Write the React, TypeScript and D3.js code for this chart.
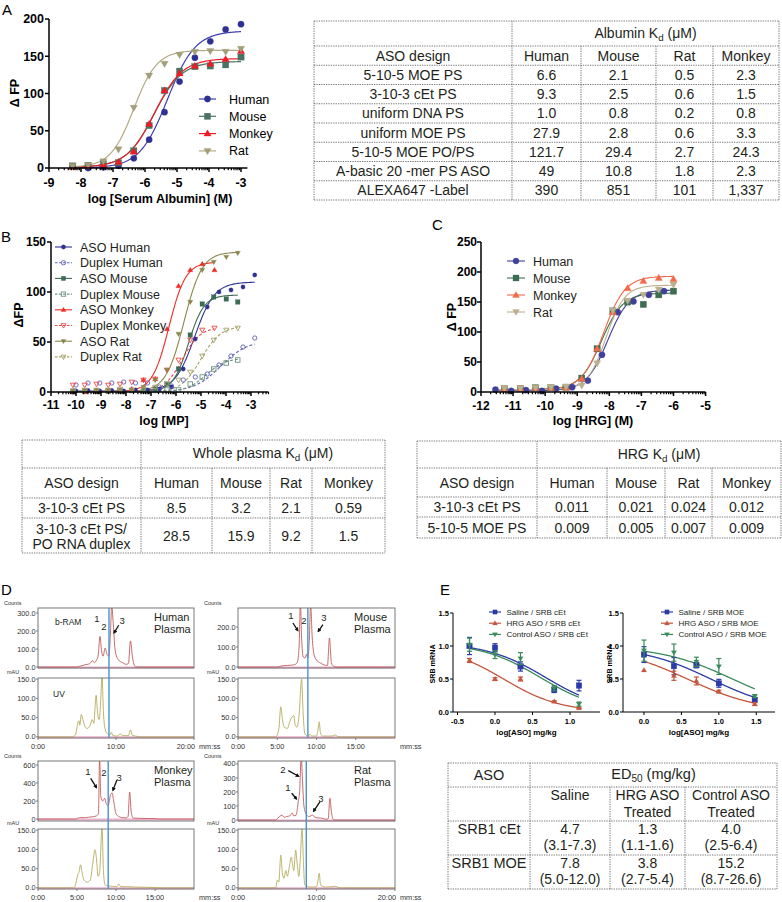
import React from "react";
import * as d3 from "d3";

const FONT = "'Liberation Sans', Arial, Helvetica, sans-serif";
const TXT = "#231f20";

/* ================= Panel A data ================= */
const aX = [-8.26, -7.78, -7.3, -6.83, -6.35, -5.87, -5.39, -4.92, -4.44, -3.96, -3.48, -3.0];
const aHuman = [2, 0, 1, 3, 13, 38, 75, 116, 148, 170, 186, 193];
const aMouse = [2.7, 3.6, 5.8, 7, 23, 57, 104, 130, 136, 137, 138.5, 149];
const aMonkey = [1.3, 2.7, 4.5, 8, 22, 59, 104, 127, 137, 140, 146, 157];
const aRat = [2.7, 4, 9, 25, 81, 124, 140, 152, 156, 157, 156, 160];
const aSpecies = ["Human", "Mouse", "Monkey", "Rat"];
// fitted curves: bottom, top, logEC50, hill
const aFitHuman = [0, 184, -5.3, 1.0];
const aFitMouse = [1, 143, -5.72, 1.0];
const aFitMonkey = [1, 147, -5.7, 1.0];
const aFitRat = [1, 158, -6.35, 1.2];
const aXTicks = [-9, -8, -7, -6, -5, -4, -3];
const aYTicks = [0, 50, 100, 150, 200];
const aColors = ["#2e3192", "#4a7363", "#ed1c24", "#a39d7a"];
const aLineColors = ["#3b3bb0", "#4a7363", "#ed1c24", "#b3ab85"];
const aShapes = ["circle", "square", "tri", "dtri"];

/* ================= Table A ================= */
const tAHead = ["ASO design", "Human", "Mouse", "Rat", "Monkey"];
const tADesign = ["5-10-5 MOE PS", "3-10-3 cEt PS", "uniform DNA PS", "uniform MOE PS", "5-10-5 MOE PO/PS", "A-basic 20 -mer PS ASO", "ALEXA647 -Label"];
const tAHuman = ["6.6", "9.3", "1.0", "27.9", "121.7", "49", "390"];
const tAMouse = ["2.1", "2.5", "0.8", "2.8", "29.4", "10.8", "851"];
const tARat = ["0.5", "0.6", "0.2", "0.6", "2.7", "1.8", "101"];
const tAMonkey = ["2.3", "1.5", "0.8", "3.3", "24.3", "2.3", "1,337"];

/* ================= Panel B data ================= */
const bXHuman = [-10.0, -9.52, -9.05, -8.57, -8.09, -7.62, -7.14, -6.66, -6.18, -5.71, -5.23, -4.75, -4.28, -3.8, -3.32, -2.85];
const bXMouseRat = [-10.12, -9.65, -9.18, -8.71, -8.24, -7.77, -7.3, -6.83, -6.36, -5.9, -5.43, -4.95, -4.49, -3.99, -3.53];
const bXMonkey = [-10.12, -9.65, -9.18, -8.71, -8.24, -7.77, -7.3, -6.83, -6.36, -5.9, -5.43, -4.95, -4.46];
const bAsoHuman = [1, 1.5, 1, 1.5, 1, 2, 2, 3, 5, 23, 53, 85, 100, 102, 105, 117];
const bDupHuman = [7, 9, 9, 9, 10, 9, 9, 5, 6, 12, 15, 18, 27, 36, 45, 54];
const bAsoMouse = [0.5, 0.5, 1, 1, 1, 1.5, 2, 3, 8, 23, 57, 88, 95, 93, 90];
const bDupMouse = [1, 1, 1, 1, 1.5, 1.5, 1, 1.5, 2, 2, 8, 15, 23, 29, 32];
const bAsoMonkey = [0, 0, 1, 1, 1, 3, 12, 13, 63, 106, 122, 128, 122];
const bDupMonkey = [7, 7, 8, 7, 8, 10, 12, 13, 22, 32, 52, 62, 64];
const bAsoRat = [0, 0.5, 1, 1, 1, 2, 5, 12, 22, 58, 90, 122, 130, 135, 139];
const bDupRat = [1, 2, 2, 2, 3, 2, 3, 5, 8, 12, 20, 36, 52, 62, 64];
const bNames = ["ASO Human", "Duplex Human", "ASO Mouse", "Duplex Mouse", "ASO Monkey", "Duplex Monkey", "ASO Rat", "Duplex Rat"];
// bottom, top, logEC50, hill, fit start, fit end
const bFits = [
  [1, 110, -5.25, 1.1, -10.0, -2.85],
  [0, 52, -4.2, 0.8, -7.5, -2.85],
  [0.5, 97, -5.5, 1.4, -10.12, -3.53],
  [0, 34, -4.8, 1.1, -7.3, -3.53],
  [0.5, 130, -6.28, 1.3, -10.12, -4.46],
  [0, 65, -5.75, 1.2, -7.8, -4.46],
  [0.5, 140, -5.68, 1.2, -10.0, -3.53],
  [0, 66, -5.0, 1.1, -7.3, -3.53],
];
const bXTicks = [-11, -10, -9, -8, -7, -6, -5, -4, -3];
const bYTicks = [0, 50, 100, 150];
const bColors = ["#2e3192", "#6161b8", "#3d6b55", "#6e9583", "#ee2a24", "#f04848", "#8a874c", "#a6a26a"];
const bShapes = ["circle", "circle", "square", "square", "tri", "dtri", "dtri", "dtri"];
const bOpen = [false, true, false, true, false, true, false, true];

/* ================= Panel C data ================= */
const cXHuman = [-11.55, -11.06, -10.6, -10.1, -9.66, -9.16, -8.67, -8.23, -7.74, -7.25, -6.77, -6.3];
const cXOther = [-11.27, -10.77, -10.3, -9.82, -9.35, -8.86, -8.38, -7.89, -7.43, -6.94, -6.46, -6.0];
const cHuman = [4, 2, 3, 2, 5.5, 8, 19, 62, 133, 151, 162, 168];
const cMouse = [5.5, 6, 7, 7, 8, 23, 72, 135, 150, 146, 162, 168];
const cMonkey = [5, 5.5, 6.5, 6.5, 7, 22, 72, 133, 173, 185, 190, 188];
const cRat = [6.5, 6.5, 7, 8, 9, 11, 48, 136, 152, 162, 171, 179];
const cFits = [
  [2, 170, -8.05, 1.3],
  [4, 165, -8.25, 1.3],
  [4, 193, -8.18, 1.3],
  [4, 178, -8.1, 1.5],
];
const cXTicks = [-12, -11, -10, -9, -8, -7, -6, -5];
const cYTicks = [0, 50, 100, 150, 200, 250];
const cColors = ["#3f3f9c", "#3e6e52", "#f26a48", "#bcb08e"];

/* ================= Tables B / C ================= */
const tBHead = ["ASO design", "Human", "Mouse", "Rat", "Monkey"];
const tBRow1 = ["3-10-3 cEt PS", "8.5", "3.2", "2.1", "0.59"];
const tBRow2 = ["28.5", "15.9", "9.2", "1.5"];
const tBRow2Name = ["3-10-3 cEt PS/", "PO RNA duplex"];
const tCRow1 = ["3-10-3 cEt PS", "0.011", "0.021", "0.024", "0.012"];
const tCRow2 = ["5-10-5 MOE PS", "0.009", "0.005", "0.007", "0.009"];

/* ================= Panel D data (minutes, signal) ================= */
const dHumanRed = [[4.8, 0], [5.3, 3], [6.0, 12], [6.6, 18], [7.0, 35], [7.2, 25], [7.5, 38], [7.7, 60], [7.95, 170], [8.15, 90], [8.35, 60], [8.6, 105], [8.85, 70], [9.1, 60], [9.3, 200], [9.45, 345], [9.65, 240], [9.9, 90], [10.3, 40], [10.8, 25], [11.3, 15], [11.6, 20], [11.85, 145], [12.1, 60], [12.4, 5], [12.6, 0]];
const dHumanUV = [[4.3, 0], [4.8, 5], [5.1, 35], [5.25, 42], [5.35, 30], [5.55, 58], [5.75, 45], [6.0, 28], [6.3, 22], [6.7, 30], [6.95, 45], [7.15, 35], [7.45, 108], [7.65, 60], [7.85, 45], [8.05, 100], [8.2, 160], [8.4, 60], [8.6, 20], [8.9, 8], [9.2, 5], [9.4, 12], [9.6, 3], [10.2, 2], [10.55, 8], [10.8, 3], [11.6, 3], [11.85, 18], [12.1, 4], [12.8, 1], [13.5, 0]];
const dMouseRed = [[5.0, 0], [5.5, 5], [6.3, 8], [7.0, 10], [7.4, 15], [7.6, 30], [7.8, 120], [7.95, 320], [8.1, 150], [8.3, 50], [8.55, 45], [8.75, 65], [8.9, 45], [9.1, 150], [9.25, 320], [9.45, 150], [9.7, 60], [10.0, 35], [10.5, 20], [11.0, 10], [11.4, 8], [11.65, 145], [11.9, 20], [12.2, 3], [12.5, 0]];
const dMouseUV = [[4.8, 0], [5.2, 20], [5.45, 78], [5.7, 40], [5.9, 25], [6.3, 22], [6.6, 40], [6.9, 52], [7.1, 55], [7.3, 30], [7.5, 25], [7.8, 60], [8.1, 150], [8.3, 60], [8.5, 10], [8.8, 3], [9.2, 6], [9.4, 2], [10.0, 2], [10.2, 20], [10.35, 39], [10.5, 10], [10.8, 2], [12.0, 2], [12.4, 5], [12.7, 1], [13.2, 0]];
const dMonkeyRed = [[4.9, 0], [5.1, 10], [5.5, 15], [6.0, 15], [6.5, 20], [7.0, 25], [7.5, 35], [7.75, 60], [7.9, 680], [8.05, 250], [8.3, 200], [8.55, 230], [8.75, 170], [9.0, 150], [9.3, 270], [9.5, 290], [9.7, 200], [10.0, 60], [10.4, 25], [10.8, 15], [11.3, 12], [11.55, 30], [11.75, 300], [11.95, 80], [12.2, 10], [13.0, 8], [14.0, 5], [15.3, 3], [15.6, 0]];
const dMonkeyUV = [[4.6, 0], [4.9, 15], [5.1, 35], [5.25, 40], [5.45, 60], [5.6, 45], [5.9, 20], [6.3, 15], [6.7, 20], [7.0, 60], [7.3, 99], [7.5, 75], [7.7, 30], [7.9, 40], [8.2, 155], [8.4, 40], [8.6, 8], [9.0, 5], [9.6, 4], [10.1, 3], [10.35, 10], [10.6, 3], [11.5, 3], [12.5, 2], [15.0, 1], [15.5, 0]];
const dRatRed = [[4.8, 0], [5.0, 10], [5.3, 25], [5.6, 35], [5.9, 20], [6.2, 25], [6.6, 30], [6.9, 50], [7.1, 30], [7.4, 35], [7.7, 140], [7.85, 200], [8.05, 460], [8.2, 300], [8.4, 100], [8.7, 40], [9.0, 25], [9.3, 30], [9.5, 35], [9.8, 20], [10.2, 15], [10.8, 12], [11.2, 5], [11.5, 10], [11.7, 155], [11.9, 60], [12.1, 5], [12.3, 0]];
const dRatUV = [[4.8, 0], [5.0, 20], [5.2, 15], [5.45, 85], [5.65, 40], [5.85, 25], [6.1, 45], [6.3, 30], [6.5, 50], [6.8, 80], [6.95, 60], [7.1, 45], [7.35, 98], [7.55, 60], [7.75, 30], [7.95, 80], [8.15, 155], [8.35, 60], [8.5, 8], [8.8, 3], [9.5, 2], [10.0, 3], [10.2, 20], [10.35, 38], [10.5, 10], [10.8, 3], [11.5, 2], [12.4, 4], [12.8, 1], [13.2, 0]];
const dBlueT = [9.1, 8.9, 9.0, 8.7];
const dNames = ["Human", "Mouse", "Monkey", "Rat"];

/* ================= Panel E data ================= */
const eXcEt = [-0.34, 0, 0.34, 0.79, 1.12];
const eSalineCEt = [1.0, 0.975, 0.69, 0.335, 0.4];
const eSalineCEtErr = [0.13, 0.06, 0.07, 0.04, 0.08];
const eHrgCEt = [0.78, 0.5, 0.5, 0.16, 0.06];
const eHrgCEtErr = [0.03, 0.02, 0.03, 0.01, 0.01];
const eCtrlCEt = [1.02, 0.87, 0.81, 0.36, 0.12];
const eCtrlCEtErr = [0.1, 0.06, 0.09, 0.04, 0.03];
const eXMOE = [0, 0.4, 0.7, 1.0, 1.48];
const eSalineMOE = [0.87, 0.695, 0.71, 0.435, 0.185];
const eSalineMOEErr = [0.12, 0.13, 0.04, 0.06, 0.03];
const eHrgMOE = [0.635, 0.55, 0.47, 0.31, 0.12];
const eHrgMOEErr = [0.0, 0.07, 0.06, 0.02, 0.02];
const eCtrlMOE = [0.93, 0.9, 0.76, 0.69, 0.24];
const eCtrlMOEErr = [0.16, 0.13, 0.07, 0.12, 0.02];
// fitted ED50 (mg/kg) and hill slopes / tops
const edCEt = [4.7, 1.3, 4.0];
const edMOE = [7.8, 3.8, 15.2];
const hillCEt = [1.1, 1.15, 1.1];
const hillMOE = [0.93, 0.9, 0.9];
const topCEt = [1.05, 1.0, 1.05];
const topMOE = [1.0, 1.0, 1.0];
const eLegendCEt = ["Saline / SRB cEt", "HRG ASO / SRB cEt", "Control ASO / SRB cEt"];
const eLegendMOE = ["Saline / SRB MOE", "HRG ASO / SRB MOE", "Control ASO / SRB MOE"];
const eColors = ["#2b3aa8", "#c4553c", "#3b8a5c"];
const eShapes = ["square", "tri", "dtri"];
const eXTicksL = [-0.5, 0, 0.5, 1.0];
const eXTicksR = [0, 0.5, 1.0, 1.5];
const eYTicks = [0, 0.5, 1.0, 1.5];

/* ================= Table E ================= */
const tERowNames = ["SRB1 cEt", "SRB1 MOE"];
const tESaline = ["4.7", "7.8"];
const tESalineCI = ["(3.1-7.3)", "(5.0-12.0)"];
const tEHrg = ["1.3", "3.8"];
const tEHrgCI = ["(1.1-1.6)", "(2.7-5.4)"];
const tECtrl = ["4.0", "15.2"];
const tECtrlCI = ["(2.5-6.4)", "(8.7-26.6)"];

/* ================= helpers ================= */
const sig4 = (p: number[]) => (x: number) => p[0] + (p[1] - p[0]) / (1 + Math.pow(10, (p[2] - x) * p[3]));
const dec = (top: number, led: number, h: number) => (x: number) => top / (1 + Math.pow(10, (x - led) * h));
const fitPath = (f: any, x0: number, x1: number, sx: any, sy: any) =>
  d3.line()(d3.range(0, 151).map((i) => { const x = x0 + ((x1 - x0) * i) / 150; return [sx(x), sy(f(x))] as [number, number]; })) || "";
const logMinors = (lo: number, hi: number) => {
  const out: number[] = [];
  for (let k = Math.floor(lo); k < hi; k++) for (let m = 2; m < 10; m++) { const v = k + Math.log10(m); if (v > lo && v < hi) out.push(v); }
  return out;
};

function Mk(props: any) {
  const { shape, x, y, s, color, open } = props;
  const fill = open ? "none" : color;
  const sw = open ? 0.9 : 0.3;
  if (shape === "circle") return <circle cx={x} cy={y} r={s / 2} fill={fill} stroke={color} strokeWidth={sw} />;
  if (shape === "square") return <rect x={x - s / 2} y={y - s / 2} width={s} height={s} fill={fill} stroke={color} strokeWidth={sw} />;
  const h = s;
  if (shape === "tri") return <polygon points={`${x},${y - h * 0.6} ${x + s * 0.58},${y + h * 0.4} ${x - s * 0.58},${y + h * 0.4}`} fill={fill} stroke={color} strokeWidth={sw} />;
  return <polygon points={`${x},${y + h * 0.6} ${x + s * 0.58},${y - h * 0.4} ${x - s * 0.58},${y - h * 0.4}`} fill={fill} stroke={color} strokeWidth={sw} />;
}

function XAxis(p: any) {
  const { sx, y, ticks, start, end, minors, fs, labelY, sw, tl } = p;
  return (
    <g>
      <line x1={sx(start)} x2={sx(end)} y1={y} y2={y} stroke="#000" strokeWidth={sw} />
      {ticks.map((t: number) => (
        <g key={t}>
          <line x1={sx(t)} x2={sx(t)} y1={y} y2={y + tl} stroke="#000" strokeWidth={sw} />
          <text x={sx(t)} y={labelY} textAnchor="middle" fontSize={fs} fontWeight="bold">{p.fmt(t)}</text>
        </g>
      ))}
      {(minors || []).map((t: number, i: number) => (
        <line key={"m" + i} x1={sx(t)} x2={sx(t)} y1={y} y2={y + tl * 0.55} stroke="#000" strokeWidth={sw * 0.8} />
      ))}
    </g>
  );
}

function YAxis(p: any) {
  const { sy, x, ticks, start, end, fs, labelX, sw, tl } = p;
  return (
    <g>
      <line x1={x} x2={x} y1={sy(start)} y2={sy(end)} stroke="#000" strokeWidth={sw} />
      {ticks.map((t: number) => (
        <g key={t}>
          <line x1={x - tl} x2={x} y1={sy(t)} y2={sy(t)} stroke="#000" strokeWidth={sw} />
          <text x={labelX} y={sy(t)} dy="0.35em" textAnchor="end" fontSize={fs} fontWeight="bold">{p.fmt(t)}</text>
        </g>
      ))}
    </g>
  );
}

const DL = (p: any) => <line x1={p.x1} y1={p.y1} x2={p.x2} y2={p.y2} stroke="#666" strokeWidth={0.9} strokeDasharray="1.3,1.1" />;
const Kd = () => (
  <>
    <tspan>K</tspan>
    <tspan fontSize="70%" dy="3">d</tspan>
    <tspan dy="-3"> (μM)</tspan>
  </>
);

/* ================= Panel A ================= */
function PanelA() {
  const sx = d3.scaleLinear().domain([-9, -3]).range([49, 241]);
  const sy = d3.scaleLinear().domain([0, 200]).range([168, 19]);
  const series = [aHuman, aMouse, aMonkey, aRat];
  const fits = [aFitHuman, aFitMouse, aFitMonkey, aFitRat];
  return (
    <g>
      <text x={2} y={15} fontSize={15}>A</text>
      {fits.map((p, i) => <path key={i} d={fitPath(sig4(p), -8.3, -3.0, sx, sy)} fill="none" stroke={aLineColors[i]} strokeWidth={1.2} />)}
      {series.map((vals, i) => vals.map((v, j) => <Mk key={i + "-" + j} shape={aShapes[i]} x={sx(aX[j])} y={sy(v)} s={6.3} color={aColors[i]} />))}
      <XAxis sx={sx} y={168} ticks={aXTicks} start={-9} end={-2.8} minors={logMinors(-9, -2.8)} fs={12.5} labelY={187} sw={1.5} tl={4} fmt={(t: number) => String(t)} />
      <YAxis sy={sy} x={49} ticks={aYTicks} start={0} end={200} fs={12.5} labelX={44} sw={1.5} tl={4} fmt={(t: number) => String(t)} />
      <text x={160} y={203} textAnchor="middle" fontSize={12.5} fontWeight="bold">log [Serum Albumin] (M)</text>
      <text transform="translate(19,93) rotate(-90)" textAnchor="middle" fontSize={12.5} fontWeight="bold">Δ FP</text>
      {aSpecies.map((n, i) => {
        const y = 99 + i * 17.3;
        return (
          <g key={n}>
            <line x1={199} x2={216} y1={y} y2={y} stroke={aLineColors[i]} strokeWidth={1.2} />
            <Mk shape={aShapes[i]} x={207.5} y={y} s={6.3} color={aColors[i]} />
            <text x={229} y={y} dy="0.36em" fontSize={12.5}>{n}</text>
          </g>
        );
      })}
    </g>
  );
}

/* ================= Table A ================= */
function TableA() {
  const xs = [314, 512, 581, 656, 713, 779];
  const y0 = 21, y1 = 46, rh = 19.25;
  const yEnd = y1 + rh * 8;
  const cols = [tADesign, tAHuman, tAMouse, tARat, tAMonkey];
  const cx = (i: number) => (xs[i] + xs[i + 1]) / 2;
  return (
    <g fontSize={14} fill={TXT}>
      <DL x1={xs[0]} y1={y0} x2={xs[5]} y2={y0} />
      <DL x1={xs[0]} y1={yEnd} x2={xs[5]} y2={yEnd} />
      <DL x1={xs[0]} y1={y0} x2={xs[0]} y2={yEnd} />
      <DL x1={xs[5]} y1={y0} x2={xs[5]} y2={yEnd} />
      <DL x1={xs[1]} y1={y0} x2={xs[1]} y2={yEnd} />
      {[2, 3, 4].map((i) => <DL key={i} x1={xs[i]} y1={y1} x2={xs[i]} y2={yEnd} />)}
      {d3.range(0, 8).map((r) => <DL key={"h" + r} x1={xs[0]} y1={y1 + r * rh} x2={xs[5]} y2={y1 + r * rh} />)}
      <text x={cx(1) + (xs[5] - xs[2]) / 2} y={(y0 + y1) / 2} dy="0.3em" textAnchor="middle">
        <tspan>Albumin  </tspan>
        <Kd />
      </text>
      {tAHead.map((h, i) => <text key={h} x={cx(i)} y={y1 + rh / 2} dy="0.36em" textAnchor="middle">{h}</text>)}
      {cols.map((col, i) => col.map((v, r) => (
        <text key={i + "-" + r} x={cx(i)} y={y1 + rh * (r + 1.5)} dy="0.36em" textAnchor="middle">{v}</text>
      )))}
    </g>
  );
}

/* ================= Panel B ================= */
function PanelB() {
  const sx = d3.scaleLinear().domain([-11, -3]).range([51, 251]);
  const sy = d3.scaleLinear().domain([0, 150]).range([392, 242]);
  const xsets = [bXHuman, bXHuman, bXMouseRat, bXMouseRat, bXMonkey, bXMonkey, bXMouseRat, bXMouseRat];
  const vals = [bAsoHuman, bDupHuman, bAsoMouse, bDupMouse, bAsoMonkey, bDupMonkey, bAsoRat, bDupRat];
  return (
    <g>
      <text x={1} y={242} fontSize={15}>B</text>
      {bFits.map((p, i) => (
        <path key={i} d={fitPath(sig4(p), p[4], p[5], sx, sy)} fill="none" stroke={bColors[i]} strokeWidth={1.1} strokeDasharray={bOpen[i] ? "3,2" : undefined} />
      ))}
      {vals.map((vs, i) => vs.map((v, j) => (
        <Mk key={i + "-" + j} shape={bShapes[i]} x={sx(xsets[i][j])} y={sy(v)} s={bShapes[i] === "circle" ? 4.3 : 4.5} color={bColors[i]} open={bOpen[i]} />
      )))}
      <XAxis sx={sx} y={392} ticks={bXTicks} start={-11} end={-2.3} minors={logMinors(-11, -2.3)} fs={12} labelY={409} sw={1.5} tl={4} fmt={(t: number) => String(t)} />
      <YAxis sy={sy} x={51} ticks={bYTicks} start={0} end={150} fs={12} labelX={46} sw={1.5} tl={4} fmt={(t: number) => String(t)} />
      <text x={164} y={425} textAnchor="middle" fontSize={12.5} fontWeight="bold">log [MP]</text>
      <text transform="translate(23,315) rotate(-90)" textAnchor="middle" fontSize={12.5} fontWeight="bold">ΔFP</text>
      {bNames.map((n, i) => {
        const y = 247 + i * 15.7;
        return (
          <g key={n}>
            <line x1={55} x2={72} y1={y} y2={y} stroke={bColors[i]} strokeWidth={1.1} strokeDasharray={bOpen[i] ? "2.5,1.5" : undefined} />
            <Mk shape={bShapes[i]} x={63.5} y={y} s={4.3} color={bColors[i]} open={bOpen[i]} />
            <text x={80} y={y} dy="0.36em" fontSize={12.5} fill={TXT}>{n}</text>
          </g>
        );
      })}
    </g>
  );
}

/* ================= Panel C ================= */
function PanelC() {
  const sx = d3.scaleLinear().domain([-12, -6]).range([481, 673.5]);
  const sy = d3.scaleLinear().domain([0, 250]).range([392, 242]);
  const xsets = [cXHuman, cXOther, cXOther, cXOther];
  const vals = [cHuman, cMouse, cMonkey, cRat];
  return (
    <g>
      <text x={432} y={230} fontSize={15}>C</text>
      {cFits.map((p, i) => <path key={i} d={fitPath(sig4(p), -11.6, -6.0, sx, sy)} fill="none" stroke={cColors[i]} strokeWidth={1.1} />)}
      {vals.map((vs, i) => vs.map((v, j) => (
        <Mk key={i + "-" + j} shape={aShapes[i]} x={sx(xsets[i][j])} y={sy(v)} s={6.3} color={cColors[i]} />
      )))}
      <XAxis sx={sx} y={392} ticks={cXTicks} start={-12} end={-5} minors={logMinors(-12, -5)} fs={12} labelY={410} sw={1.5} tl={4} fmt={(t: number) => String(t)} />
      <YAxis sy={sy} x={481} ticks={cYTicks} start={0} end={250} fs={12} labelX={477} sw={1.5} tl={4} fmt={(t: number) => String(t)} />
      <text x={593} y={425} textAnchor="middle" fontSize={12.5} fontWeight="bold">log [HRG] (M)</text>
      <text transform="translate(456,317) rotate(-90)" textAnchor="middle" fontSize={12.5} fontWeight="bold">Δ FP</text>
      {aSpecies.map((n, i) => {
        const y = 261 + i * 17;
        return (
          <g key={n}>
            <line x1={507} x2={525} y1={y} y2={y} stroke={cColors[i]} strokeWidth={1.1} />
            <Mk shape={aShapes[i]} x={516} y={y} s={6} color={cColors[i]} />
            <text x={533} y={y} dy="0.36em" fontSize={12.5} fill={TXT}>{n}</text>
          </g>
        );
      })}
    </g>
  );
}

/* ================= Tables B, C ================= */
function TableB() {
  const xs = [22, 141, 212, 270, 312, 385];
  const ys = [440, 468, 498, 518, 553];
  const cx = (i: number) => (xs[i] + xs[i + 1]) / 2;
  return (
    <g fontSize={14} fill={TXT}>
      {ys.map((y) => <DL key={y} x1={xs[0]} y1={y} x2={xs[5]} y2={y} />)}
      <DL x1={xs[0]} y1={ys[0]} x2={xs[0]} y2={ys[4]} />
      <DL x1={xs[5]} y1={ys[0]} x2={xs[5]} y2={ys[4]} />
      <DL x1={xs[1]} y1={ys[0]} x2={xs[1]} y2={ys[4]} />
      {[2, 3, 4].map((i) => <DL key={i} x1={xs[i]} y1={ys[1]} x2={xs[i]} y2={ys[4]} />)}
      <text x={(xs[1] + xs[5]) / 2} y={(ys[0] + ys[1]) / 2} dy="0.3em" textAnchor="middle">
        <tspan>Whole plasma  </tspan>
        <Kd />
      </text>
      {tBHead.map((h, i) => <text key={h} x={cx(i)} y={(ys[1] + ys[2]) / 2} dy="0.36em" textAnchor="middle">{h}</text>)}
      {tBRow1.map((v, i) => <text key={"r1" + i} x={cx(i)} y={(ys[2] + ys[3]) / 2} dy="0.36em" textAnchor="middle">{v}</text>)}
      {tBRow2Name.map((v, k) => <text key={"n" + k} x={cx(0)} y={ys[3] + 10.5 + k * 15} dy="0.36em" textAnchor="middle">{v}</text>)}
      {tBRow2.map((v, i) => <text key={"r2" + i} x={cx(i + 1)} y={(ys[3] + ys[4]) / 2} dy="0.36em" textAnchor="middle">{v}</text>)}
    </g>
  );
}

function TableC() {
  const xs = [417, 537, 607, 665, 712, 781];
  const ys = [441, 468, 497, 517, 538];
  const cx = (i: number) => (xs[i] + xs[i + 1]) / 2;
  return (
    <g fontSize={14} fill={TXT}>
      {ys.map((y) => <DL key={y} x1={xs[0]} y1={y} x2={xs[5]} y2={y} />)}
      <DL x1={xs[0]} y1={ys[0]} x2={xs[0]} y2={ys[4]} />
      <DL x1={xs[5]} y1={ys[0]} x2={xs[5]} y2={ys[4]} />
      <DL x1={xs[1]} y1={ys[0]} x2={xs[1]} y2={ys[4]} />
      {[2, 3, 4].map((i) => <DL key={i} x1={xs[i]} y1={ys[1]} x2={xs[i]} y2={ys[4]} />)}
      <text x={(xs[1] + xs[5]) / 2} y={(ys[0] + ys[1]) / 2} dy="0.3em" textAnchor="middle">
        <tspan>HRG </tspan>
        <Kd />
      </text>
      {tBHead.map((h, i) => <text key={h} x={cx(i)} y={(ys[1] + ys[2]) / 2} dy="0.36em" textAnchor="middle">{h}</text>)}
      {tCRow1.map((v, i) => <text key={"a" + i} x={cx(i)} y={(ys[2] + ys[3]) / 2} dy="0.36em" textAnchor="middle">{v}</text>)}
      {tCRow2.map((v, i) => <text key={"b" + i} x={cx(i)} y={(ys[3] + ys[4]) / 2} dy="0.36em" textAnchor="middle">{v}</text>)}
    </g>
  );
}

/* ================= Panel D ================= */
function Chrom(p: any) {
  const { id, x0, x1, top, bot, cDom, cTicks, cFmt, red, uv, blueT, xTicks, name, nums, arrows, bram } = p;
  const xs = d3.scaleLinear().domain([0, 20]).range([x0, x1]);
  const yc = d3.scaleLinear().domain(cDom).range([top + 60, top]);
  const yu = d3.scaleLinear().domain([-3, 153]).range([bot + 60, bot]);
  const line = (ys: any) => d3.line<number[]>().x((d) => xs(d[0])).y((d) => ys(d[1])).curve(d3.curveMonotoneX);
  const redFull = [[0, 0], ...red, [20, 0]];
  const uvFull = [[0, 0], ...uv, [20, 0]];
  const lab = 7.3;
  return (
    <g>
      <defs>
        <clipPath id={id + "t"}><rect x={x0} y={top} width={x1 - x0} height={60} /></clipPath>
        <clipPath id={id + "b"}><rect x={x0} y={bot} width={x1 - x0} height={60} /></clipPath>
      </defs>
      <text x={2} y={top - 3} fontSize={5.5} fill="#333" transform={`translate(${x0 - 36},0)`}>Counts</text>
      <text x={x0 - 31} y={bot - 4} fontSize={5.5} fill="#333">mAU</text>
      <line x1={x0} x2={x1} y1={yc(0) + 0.5} y2={yc(0) + 0.5} stroke="#eab0cb" strokeWidth={2} />
      <line x1={x0} x2={x1} y1={yu(0) + 0.5} y2={yu(0) + 0.5} stroke="#eab0cb" strokeWidth={2} />
      <path d={line(yc)(redFull as any) || ""} fill="none" stroke="#c25a5a" strokeWidth={0.9} clipPath={`url(#${id}t)`} />
      <path d={line(yu)(uvFull as any) || ""} fill="none" stroke="#b3ac5c" strokeWidth={0.9} clipPath={`url(#${id}b)`} />
      <rect x={x0} y={top} width={x1 - x0} height={60} fill="none" stroke="#6a6a6a" strokeWidth={0.9} />
      <rect x={x0} y={bot} width={x1 - x0} height={60} fill="none" stroke="#6a6a6a" strokeWidth={0.9} />
      <line x1={xs(blueT)} x2={xs(blueT)} y1={top} y2={bot + 60} stroke="#4a93cf" strokeWidth={1.4} />
      {cTicks.map((t: number) => (
        <g key={"c" + t}>
          <line x1={x0 - 2} x2={x0} y1={yc(t)} y2={yc(t)} stroke="#555" strokeWidth={0.7} />
          <text x={x0 - 2.5} y={yc(t)} dy="0.35em" textAnchor="end" fontSize={lab} fill="#333">{cFmt(t)}</text>
        </g>
      ))}
      {[0, 50, 100, 150].map((t) => (
        <g key={"u" + t}>
          <line x1={x0 - 2} x2={x0} y1={yu(t)} y2={yu(t)} stroke="#555" strokeWidth={0.7} />
          <text x={x0 - 2.5} y={yu(t)} dy="0.35em" textAnchor="end" fontSize={lab} fill="#333">{t.toFixed(1)}</text>
        </g>
      ))}
      {xTicks.map((t: number) => (
        <g key={"x" + t}>
          <line x1={xs(t)} x2={xs(t)} y1={bot + 60} y2={bot + 62} stroke="#555" strokeWidth={0.7} />
          <text x={t === 20 ? xs(t) + 1 : xs(t)} y={bot + 71} textAnchor={t === 20 ? "end" : "middle"} fontSize={lab} fill="#333">{`${t}:00`}</text>
        </g>
      ))}
      <text x={x1 + 5} y={bot + 71} fontSize={lab} fill="#333">mm:ss</text>
      <text x={x0 + 116} y={top + 13} fontSize={11} fill={TXT}>{name}</text>
      <text x={x0 + 116} y={top + 24.5} fontSize={11} fill={TXT}>Plasma</text>
      {bram && <text x={x0 + 17} y={top + 17} fontSize={8.5} fill={TXT}>b-RAM</text>}
      {bram && <text x={x0 + 15} y={bot + 19} fontSize={8.5} fill={TXT}>UV</text>}
      {nums.map((n: any, i: number) => (
        <text key={"n" + i} x={xs(n[0])} y={yc(n[1])} dy="0.35em" textAnchor="middle" fontSize={9.5} fill={TXT}>{i + 1}</text>
      ))}
      {arrows.map((a: any, i: number) => (
        <line key={"a" + i} x1={xs(a[0])} y1={yc(a[1])} x2={xs(a[2])} y2={yc(a[3])} stroke="#111" strokeWidth={1.3} markerEnd="url(#arrowD)" />
      ))}
    </g>
  );
}

// annotation anchors (time, counts)
const dHumanNums = [[7.55, 267], [8.46, 225], [10.8, 255]];
const dHumanArrows = [[10.35, 232], [9.75, 190]];
const dMouseNums = [[6.75, 255], [8.4, 232], [10.95, 245]];
const dMouseArrows = [[7.0, 220, 7.62, 182], [10.82, 212, 10.22, 178]];
const dMonkeyNums = [[6.41, 522], [8.46, 511], [10.4, 455]];
const dMonkeyArrows = [[6.75, 452, 7.5, 348], [10.12, 433, 9.6, 318]];
const dRatNums = [[6.37, 228], [5.73, 357], [10.57, 155]];
const dRatArrows = [[6.41, 352, 7.72, 312], [6.84, 191, 7.45, 150], [10.45, 131, 9.62, 62]];

function PanelD() {
  return (
    <g>
      <defs>
        <marker id="arrowD" viewBox="0 0 10 10" refX="7" refY="5" markerWidth="3.2" markerHeight="3.2" orient="auto">
          <path d="M0,0 L10,5 L0,10 z" fill="#111" />
        </marker>
      </defs>
      <text x={1} y={595} fontSize={15}>D</text>
      <Chrom id="dh" x0={38} x1={194} top={608} bot={678} cDom={[-5.6, 328]} cTicks={[0, 100, 200, 300]} cFmt={(t: number) => t.toFixed(1)}
        red={dHumanRed} uv={dHumanUV} blueT={dBlueT[0]} xTicks={[0, 10, 20]} name={dNames[0]} nums={dHumanNums}
        arrows={[[dHumanArrows[0][0], dHumanArrows[0][1], dHumanArrows[1][0], dHumanArrows[1][1]]]} bram />
      <Chrom id="dm" x0={238} x1={395} top={608} bot={678} cDom={[-5, 295]} cTicks={[0, 100, 200]} cFmt={(t: number) => t.toFixed(1)}
        red={dMouseRed} uv={dMouseUV} blueT={dBlueT[1]} xTicks={[0, 5, 10, 15]} name={dNames[1]} nums={dMouseNums} arrows={dMouseArrows} />
      <Chrom id="dk" x0={38} x1={194} top={761} bot={829} cDom={[-22, 644]} cTicks={[0, 200, 400, 600]} cFmt={(t: number) => String(t)}
        red={dMonkeyRed} uv={dMonkeyUV} blueT={dBlueT[2]} xTicks={[0, 5, 10, 15]} name={dNames[2]} nums={dMonkeyNums} arrows={dMonkeyArrows} />
      <Chrom id="dr" x0={238} x1={395} top={761} bot={829} cDom={[-7, 421]} cTicks={[0, 100, 200, 300, 400]} cFmt={(t: number) => String(t)}
        red={dRatRed} uv={dRatUV} blueT={dBlueT[3]} xTicks={[0, 10, 20]} name={dNames[3]} nums={dRatNums} arrows={dRatArrows} />
    </g>
  );
}

/* ================= Panel E ================= */
function EChart(p: any) {
  const { sx, x0, x1, xTicks, xs, vals, errs, eds, hills, tops, fitRange, legend, legX, titleX } = p;
  const sy = d3.scaleLinear().domain([0, 1.5]).range([712, 613]);
  const ax = sx(x0);
  return (
    <g>
      {eds.map((ed: number, i: number) => (
        <path key={"f" + i} d={fitPath(dec(tops[i], Math.log10(ed), hills[i]), fitRange[0], fitRange[1], sx, sy)} fill="none" stroke={eColors[i]} strokeWidth={1.3} />
      ))}
      {vals.map((vs: number[], i: number) => vs.map((v: number, j: number) => {
        const x = sx(xs[j]);
        const e = errs[i][j];
        return (
          <g key={i + "-" + j}>
            {e > 0 && (
              <g stroke={eColors[i]} strokeWidth={1.2}>
                <line x1={x} x2={x} y1={sy(v - e)} y2={sy(v + e)} />
                <line x1={x - 2.5} x2={x + 2.5} y1={sy(v - e)} y2={sy(v - e)} />
                <line x1={x - 2.5} x2={x + 2.5} y1={sy(v + e)} y2={sy(v + e)} />
              </g>
            )}
            <Mk shape={eShapes[i]} x={x} y={sy(v)} s={eShapes[i] === "square" ? 5.5 : 4.5} color={eColors[i]} />
          </g>
        );
      }))}
      <line x1={ax} x2={sx(x1)} y1={712} y2={712} stroke="#000" strokeWidth={1} />
      <line x1={ax} x2={ax} y1={712} y2={613} stroke="#000" strokeWidth={1} />
      {xTicks.map((t: number) => (
        <g key={"x" + t}>
          <line x1={sx(t)} x2={sx(t)} y1={712} y2={715} stroke="#000" strokeWidth={1} />
          <text x={sx(t)} y={724} textAnchor="middle" fontSize={7.5} fontWeight="bold">{t.toFixed(1)}</text>
        </g>
      ))}
      {eYTicks.map((t) => (
        <g key={"y" + t}>
          <line x1={ax - 3} x2={ax} y1={sy(t)} y2={sy(t)} stroke="#000" strokeWidth={1} />
          <text x={ax - 4} y={sy(t)} dy="0.35em" textAnchor="end" fontSize={7.5} fontWeight="bold">{t.toFixed(1)}</text>
        </g>
      ))}
      <text x={(ax + sx(x1)) / 2} y={735} textAnchor="middle" fontSize={8} fontWeight="bold">log[ASO] mg/kg</text>
      <text transform={`translate(${titleX},664) rotate(-90)`} textAnchor="middle" fontSize={7.2} fontWeight="bold">SRB mRNA</text>
      {legend.map((n: string, i: number) => {
        const y = 612 + i * 11.2;
        return (
          <g key={n}>
            <line x1={legX - 6} x2={legX + 6} y1={y} y2={y} stroke={eColors[i]} strokeWidth={1.2} />
            <Mk shape={eShapes[i]} x={legX} y={y} s={4.2} color={eColors[i]} />
            <text x={legX + 11.5} y={y} dy="0.35em" fontSize={8} fill={TXT}>{n}</text>
          </g>
        );
      })}
    </g>
  );
}

function PanelE() {
  const sxL = d3.scaleLinear().domain([-0.56, 1.4]).range([453, 600]);
  const sxR = d3.scaleLinear().domain([-0.28, 1.75]).range([623, 775]);
  return (
    <g>
      <text x={440} y={595} fontSize={15}>E</text>
      <EChart sx={sxL} x0={-0.56} x1={1.4} xTicks={eXTicksL} xs={eXcEt} vals={[eSalineCEt, eHrgCEt, eCtrlCEt]} errs={[eSalineCEtErr, eHrgCEtErr, eCtrlCEtErr]}
        eds={edCEt} hills={hillCEt} tops={topCEt} fitRange={[-0.34, 1.12]} legend={eLegendCEt} legX={495} titleX={435} />
      <EChart sx={sxR} x0={-0.28} x1={1.75} xTicks={eXTicksR} xs={eXMOE} vals={[eSalineMOE, eHrgMOE, eCtrlMOE]} errs={[eSalineMOEErr, eHrgMOEErr, eCtrlMOEErr]}
        eds={edMOE} hills={hillMOE} tops={topMOE} fitRange={[0, 1.48]} legend={eLegendMOE} legX={667} titleX={612} />
    </g>
  );
}

function TableE() {
  const xs = [448, 530, 610, 685, 777];
  const ys = [763, 787, 821, 855, 889];
  const cx = (i: number) => (xs[i] + xs[i + 1]) / 2;
  const vals = [tESaline, tEHrg, tECtrl];
  const cis = [tESalineCI, tEHrgCI, tECtrlCI];
  return (
    <g fontSize={14} fill={TXT}>
      {ys.map((y) => <DL key={y} x1={xs[0]} y1={y} x2={xs[4]} y2={y} />)}
      <DL x1={xs[0]} y1={ys[0]} x2={xs[0]} y2={ys[4]} />
      <DL x1={xs[4]} y1={ys[0]} x2={xs[4]} y2={ys[4]} />
      <DL x1={xs[1]} y1={ys[0]} x2={xs[1]} y2={ys[4]} />
      {[2, 3].map((i) => <DL key={i} x1={xs[i]} y1={ys[1]} x2={xs[i]} y2={ys[4]} />)}
      <text x={cx(0)} y={(ys[0] + ys[1]) / 2} dy="0.36em" textAnchor="middle" fontSize={14.5}>ASO</text>
      <text x={(xs[1] + xs[4]) / 2} y={(ys[0] + ys[1]) / 2} dy="0.3em" textAnchor="middle" fontSize={14.5}>
        <tspan>ED</tspan>
        <tspan fontSize={10} dy={3}>50</tspan>
        <tspan dy={-3}> (mg/kg)</tspan>
      </text>
      <text x={cx(1)} y={ys[1] + 8.5} dy="0.34em" textAnchor="middle">Saline</text>
      <text x={cx(2)} y={ys[1] + 8.5} dy="0.34em" textAnchor="middle">HRG ASO</text>
      <text x={cx(2)} y={ys[1] + 25} dy="0.34em" textAnchor="middle">Treated</text>
      <text x={cx(3)} y={ys[1] + 8.5} dy="0.34em" textAnchor="middle">Control ASO</text>
      <text x={cx(3)} y={ys[1] + 25} dy="0.34em" textAnchor="middle">Treated</text>
      {tERowNames.map((n, r) => (
        <g key={n}>
          <text x={cx(0)} y={ys[2 + r] + 8} dy="0.34em" textAnchor="middle" fontSize={14.5}>{n}</text>
          {vals.map((v, i) => (
            <g key={i}>
              <text x={cx(i + 1)} y={ys[2 + r] + 8} dy="0.34em" textAnchor="middle">{v[r]}</text>
              <text x={cx(i + 1)} y={ys[2 + r] + 24.5} dy="0.34em" textAnchor="middle">{cis[i][r]}</text>
            </g>
          ))}
        </g>
      ))}
    </g>
  );
}

export default function App() {
  return (
    <svg width={782} height={902} viewBox="0 0 782 902" style={{ position: "absolute", left: 0, top: 0, background: "#fff" }} fontFamily={FONT}>
      <rect width={782} height={902} fill="#fff" />
      <PanelA />
      <TableA />
      <PanelB />
      <PanelC />
      <TableB />
      <TableC />
      <PanelD />
      <PanelE />
      <TableE />
    </svg>
  );
}
